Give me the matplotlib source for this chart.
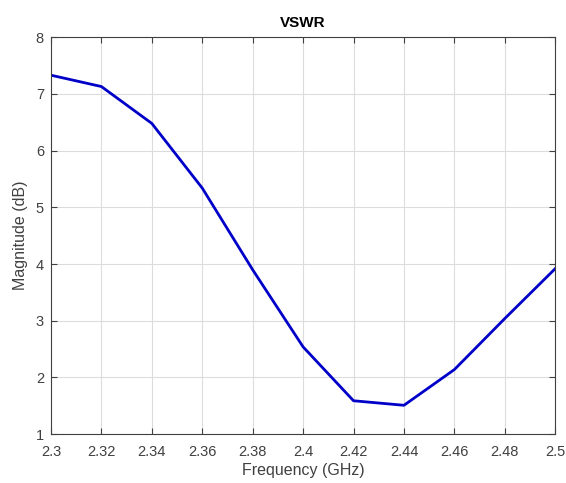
import matplotlib
matplotlib.use('Agg')
import matplotlib.pyplot as plt

# VSWR sweep values
freq_ghz = [2.30, 2.32, 2.34, 2.36, 2.38, 2.40, 2.42, 2.44, 2.46, 2.48, 2.50]
vswr = [7.33, 7.13, 6.48, 5.34, 3.90, 2.54, 1.59, 1.51, 2.14, 3.04, 3.92]

x_ticks = [2.3, 2.32, 2.34, 2.36, 2.38, 2.4, 2.42, 2.44, 2.46, 2.48, 2.5]
x_tick_labels = ['2.3', '2.32', '2.34', '2.36', '2.38', '2.4', '2.42', '2.44', '2.46', '2.48', '2.5']
y_ticks = [1, 2, 3, 4, 5, 6, 7, 8]

plt.rcParams['font.family'] = ['Liberation Sans', 'DejaVu Sans']

fig = plt.figure(figsize=(5.66, 4.83), dpi=100)
ax = fig.add_axes([0.090, 0.101, 0.891, 0.822])

ax.plot(freq_ghz, vswr, color='#0000C8', linewidth=2.0)

ax.set_xlim(2.3, 2.5)
ax.set_ylim(1, 8)
ax.set_xticks(x_ticks)
ax.set_xticklabels(x_tick_labels)
ax.set_yticks(y_ticks)

ax.grid(True, color='#dcdcdc', linewidth=0.8)
ax.set_axisbelow(True)
ax.tick_params(direction='in', top=True, right=True, length=4, colors='#404040',
               labelsize=10.5, labelcolor='#404040')
ax.tick_params(axis='x', pad=8)
ax.tick_params(axis='y', pad=5)
for spine in ax.spines.values():
    spine.set_color('#404040')
    spine.set_linewidth(0.8)

ax.set_title('VSWR', fontsize=11, fontweight='bold', pad=7)
ax.set_xlabel('Frequency (GHz)', fontsize=11.5, color='#404040', labelpad=3)
ax.set_ylabel('Magnitude (dB)', fontsize=11.5, color='#404040', labelpad=6)

fig.savefig('out.png', dpi=100)
